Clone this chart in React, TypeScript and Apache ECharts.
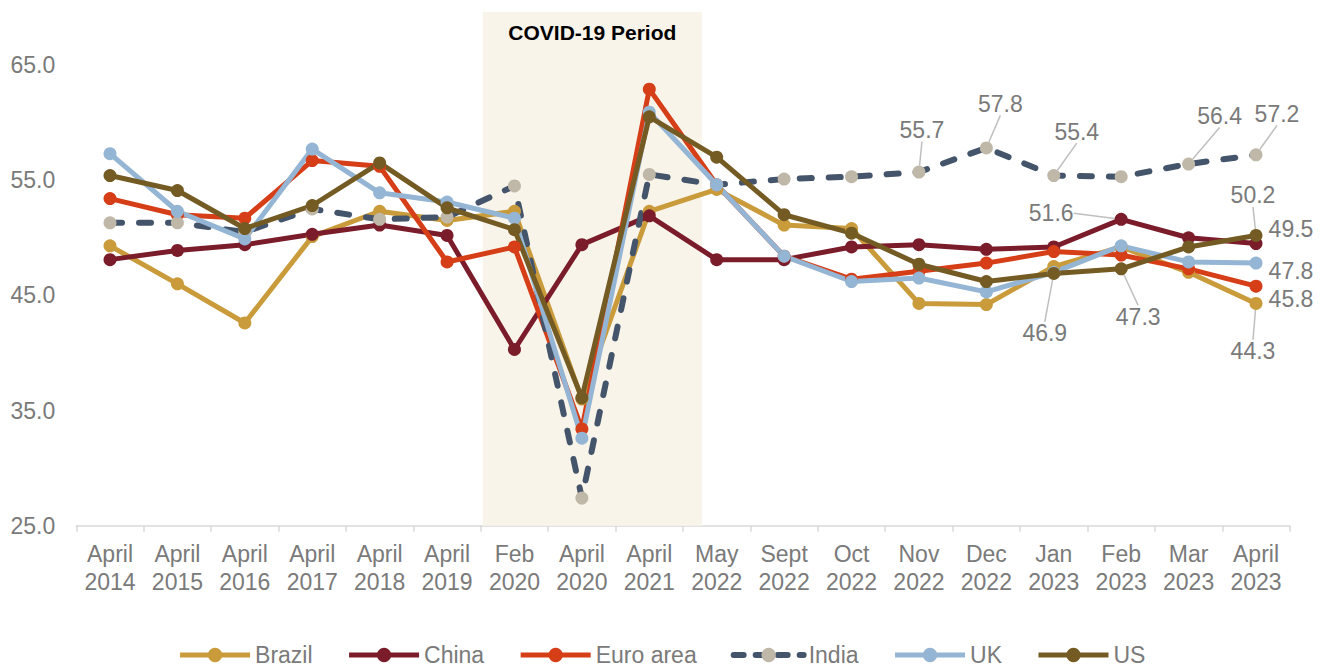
import React, { useEffect, useRef } from 'react';
import * as echarts from 'echarts';

const categories = [
  'April\n2014', 'April\n2015', 'April\n2016', 'April\n2017', 'April\n2018', 'April\n2019',
  'Feb\n2020', 'April\n2020', 'April\n2021', 'May\n2022', 'Sept\n2022', 'Oct\n2022',
  'Nov\n2022', 'Dec\n2022', 'Jan\n2023', 'Feb\n2023', 'Mar\n2023', 'April\n2023',
];

const brazil = [49.3, 46.0, 42.6, 50.1, 52.3, 51.5, 52.3, 36.0, 52.3, 54.2, 51.1, 50.8, 44.3, 44.2, 47.5, 49.2, 47.0, 44.3];
const china = [48.1, 48.9, 49.4, 50.3, 51.1, 50.2, 40.3, 49.4, 51.9, 48.1, 48.1, 49.2, 49.4, 49.0, 49.2, 51.6, 50.0, 49.5];
const euroArea = [53.4, 52.0, 51.7, 56.7, 56.2, 47.9, 49.2, 33.4, 62.9, 54.6, 48.4, 46.4, 47.1, 47.8, 48.8, 48.5, 47.3, 45.8];
const india = [51.3, 51.3, 50.5, 52.5, 51.6, 51.8, 54.5, 27.4, 55.5, 54.6, 55.1, 55.3, 55.7, 57.8, 55.4, 55.3, 56.4, 57.2];
const uk = [57.3, 52.3, 49.9, 57.7, 53.9, 53.1, 51.7, 32.6, 60.9, 54.6, 48.4, 46.2, 46.5, 45.3, 47.0, 49.3, 47.9, 47.8];
const us = [55.4, 54.1, 50.8, 52.8, 56.5, 52.6, 50.7, 36.1, 60.5, 57.0, 52.0, 50.4, 47.7, 46.2, 46.9, 47.3, 49.2, 50.2];

const yTicks = { min: 25, max: 70, interval: 10 };
const periodLabel = 'COVID-19 Period';

// label placement (dx, dy from point centre, leader line shown?)
const labelPlacement: Record<string, Record<number, [number, number, boolean]>> = {
  Brazil: { 17: [-3, 48, true] },
  China: { 15: [-70, -6, true], 17: [35, -15, false] },
  'Euro area': { 17: [35, 13, false] },
  India: { 12: [3, -42, true], 13: [14, -44, true], 14: [23, -44, true], 16: [31, -48, true], 17: [21, -41, true] },
  UK: { 17: [35, 8, false] },
  US: { 14: [-9, 60, true], 15: [17, 48, true], 17: [-3, -40, true] },
};

const FONT = '"Liberation Sans", Arial, sans-serif';
const GREY = '#7A7A7A';
const INDIA_DASH = [12, 17];

const seriesDefs = [
  { name: 'Brazil', values: brazil, line: '#C99B3B', marker: '#C99B3B', dashed: false },
  { name: 'China', values: china, line: '#7B1C2B', marker: '#7B1C2B', dashed: false },
  { name: 'Euro area', values: euroArea, line: '#D63E17', marker: '#D63E17', dashed: false },
  { name: 'India', values: india, line: '#44546A', marker: '#BFB7A8', dashed: true },
  { name: 'UK', values: uk, line: '#94B5D3', marker: '#94B5D3', dashed: false },
  { name: 'US', values: us, line: '#745B23', marker: '#745B23', dashed: false },
];

export default function App() {
  const ref = useRef<HTMLDivElement>(null);

  useEffect(() => {
    if (!ref.current) return;
    const chart = echarts.init(ref.current, undefined, { renderer: 'svg' });

    const lineSeries = seriesDefs.map((d) => {
      const place = labelPlacement[d.name] || {};
      return {
        name: d.name,
        type: 'line',
        xAxisIndex: 0,
        yAxisIndex: 0,
        symbol: 'circle',
        symbolSize: 13,
        showAllSymbol: true,
        lineStyle: d.dashed
          ? { color: d.line, width: 6, type: INDIA_DASH, cap: 'round' }
          : { color: d.line, width: 5 },
        itemStyle: { color: d.marker },
        label: {
          show: false,
          position: 'inside',
          fontFamily: FONT,
          fontSize: 23,
          color: GREY,
          formatter: (p: any) => Number(p.value).toFixed(1),
        },
        labelLine: { show: true, lineStyle: { color: '#BFBFBF', width: 1.5 } },
        labelLayout: (params: any) => {
          const o = place[params.dataIndex];
          return o ? { dx: o[0], dy: o[1] } : {};
        },
        emphasis: { disabled: true },
        data: d.values.map((v, i) => {
          const o = place[i];
          if (!o) return v;
          return {
            value: v,
            label: { show: true },
            labelLine: { show: o[2], lineStyle: { color: '#BFBFBF', width: 1.5 } },
          };
        }),
        z: 3,
      };
    });

    const option: any = {
      animation: false,
      textStyle: { fontFamily: FONT },
      grid: {
        left: 76.3,
        right: 33.3,
        top: 7.4,
        bottom: 140.3,
        containLabel: false,
        outerBoundsMode: 'none',
      },
      legend: {
        data: seriesDefs.map((d) => ({
          name: d.name,
          lineStyle: d.dashed
            ? { width: 6, type: [10, 12], cap: 'round', color: d.line }
            : { width: 5, color: d.line },
        })),
        left: 'center',
        top: 636,
        itemWidth: 70,
        itemHeight: 18,
        itemGap: 34,
        textStyle: { fontFamily: FONT, fontSize: 23, color: GREY, lineHeight: 28 },
      },
      xAxis: [
        {
          type: 'category',
          data: categories,
          boundaryGap: true,
          axisLine: { show: true, lineStyle: { color: '#D9D9D9', width: 1.5 } },
          axisTick: { show: true, length: 6, lineStyle: { color: '#D9D9D9', width: 1.5 } },
          axisLabel: {
            interval: 0,
            fontFamily: FONT,
            fontSize: 23,
            lineHeight: 28,
            color: GREY,
            margin: 14,
          },
          splitLine: { show: false },
        },
        {
          type: 'value',
          min: -0.5,
          max: 17.5,
          show: false,
        },
      ],
      yAxis: {
        type: 'value',
        min: yTicks.min,
        max: yTicks.max,
        interval: yTicks.interval,
        axisLine: { show: false },
        axisTick: { show: false },
        splitLine: { show: false },
        axisLabel: {
          showMaxLabel: false,
          fontFamily: FONT,
          fontSize: 23,
          color: GREY,
          margin: 21,
          formatter: (v: number) => v.toFixed(1),
        },
      },
      series: [
        {
          type: 'line',
          xAxisIndex: 1,
          yAxisIndex: 0,
          data: [],
          silent: true,
          z: 0,
          markArea: {
            silent: true,
            itemStyle: { color: '#F8F4EA' },
            label: {
              show: true,
              position: 'insideTop',
              distance: 10,
              formatter: periodLabel,
              fontFamily: FONT,
              fontWeight: 'bold',
              fontSize: 21,
              color: '#000000',
            },
            data: [[{ xAxis: 5.53, yAxis: 25 }, { xAxis: 8.78, yAxis: 69.6 }]],
          },
        },
        ...lineSeries,
      ],
    };

    chart.setOption(option);
    return () => chart.dispose();
  }, []);

  return (
    <div
      ref={ref}
      style={{ position: 'fixed', left: 0, top: 0, width: 1323, height: 666, background: '#FFFFFF' }}
    />
  );
}
